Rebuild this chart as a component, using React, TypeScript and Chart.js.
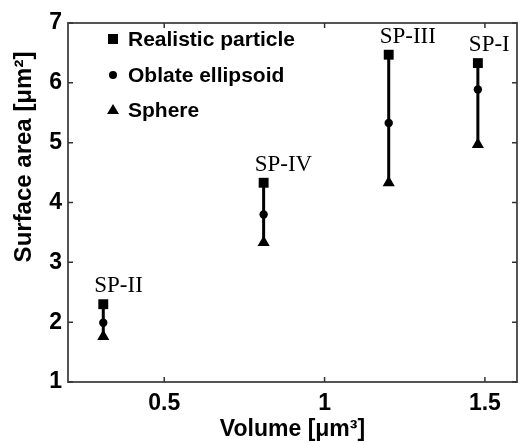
import React, { useEffect, useRef } from "react";
import { Chart, registerables } from "chart.js";

Chart.register(...registerables);

const particleNames = ["SP-II", "SP-IV", "SP-III", "SP-I"];
const volumes = [0.31, 0.81, 1.2, 1.478];
const realisticArea = [2.3, 4.33, 6.47, 6.33];
const oblateArea = [1.99, 3.8, 5.33, 5.89];
const sphereArea = [1.76, 3.33, 4.33, 4.97];
const seriesLabels = ["Realistic particle", "Oblate ellipsoid", "Sphere"];
const xTicks = [0.5, 1, 1.5];
const yTicks = [1, 2, 3, 4, 5, 6, 7];
const xTitle = "Volume [μm³]";
const yTitle = "Surface area [μm²]";

const SANS = "'Liberation Sans', Arial, Helvetica, sans-serif";
const SERIF = "'Liberation Serif', 'Times New Roman', serif";

const framePlugin = {
  id: "frameTicks",
  afterDatasetsDraw(chart: any) {
    const { ctx, chartArea: a, scales } = chart;
    const xs = scales.x;
    const ys = scales.y;
    ctx.save();
    ctx.strokeStyle = "#555555";
    ctx.lineWidth = 2;
    ctx.strokeRect(a.left, a.top, a.right - a.left, a.bottom - a.top);
    ctx.lineWidth = 1.5;
    ctx.strokeStyle = "#333333";
    const tl = 5;
    xTicks.forEach((v) => {
      const px = xs.getPixelForValue(v);
      ctx.beginPath();
      ctx.moveTo(px, a.bottom);
      ctx.lineTo(px, a.bottom - tl);
      ctx.moveTo(px, a.top);
      ctx.lineTo(px, a.top + tl);
      ctx.stroke();
    });
    yTicks.forEach((v) => {
      const py = ys.getPixelForValue(v);
      ctx.beginPath();
      ctx.moveTo(a.left, py);
      ctx.lineTo(a.left + tl, py);
      ctx.moveTo(a.right, py);
      ctx.lineTo(a.right - tl, py);
      ctx.stroke();
    });
    ctx.restore();
  },
};

const annotPlugin = {
  id: "annotLegend",
  afterDraw(chart: any) {
    const { ctx, chartArea: a, scales } = chart;
    const xs = scales.x;
    const ys = scales.y;
    ctx.save();
    ctx.fillStyle = "#000";
    ctx.font = `23px ${SERIF}`;
    ctx.textAlign = "left";
    ctx.textBaseline = "alphabetic";
    particleNames.forEach((n, i) => {
      const px = xs.getPixelForValue(volumes[i]);
      const py = ys.getPixelForValue(realisticArea[i]);
      ctx.fillText(n, px - 9, py - 12);
    });
    // legend
    const mx = a.left + 45;
    const tx = a.left + 60;
    const rows = [a.top + 16, a.top + 52, a.top + 87];
    ctx.font = `bold 21px ${SANS}`;
    ctx.textBaseline = "middle";
    ctx.fillRect(mx - 5, rows[0] - 5, 10, 10);
    ctx.beginPath();
    ctx.arc(mx, rows[1], 4, 0, Math.PI * 2);
    ctx.fill();
    ctx.beginPath();
    ctx.moveTo(mx, rows[2] - 6);
    ctx.lineTo(mx + 6, rows[2] + 4);
    ctx.lineTo(mx - 6, rows[2] + 4);
    ctx.closePath();
    ctx.fill();
    seriesLabels.forEach((s, i) => ctx.fillText(s, tx, rows[i] + 1));
    // y title
    ctx.save();
    ctx.translate(24, 157);
    ctx.rotate(-Math.PI / 2);
    ctx.textAlign = "center";
    ctx.textBaseline = "middle";
    ctx.font = `bold 24px ${SANS}`;
    ctx.fillText(yTitle, 0, 0);
    ctx.restore();
    ctx.restore();
  },
};

export default function App() {
  const ref = useRef<HTMLCanvasElement>(null);
  useEffect(() => {
    if (!ref.current) return;
    const lineSets = particleNames.map((n, i) => ({
      type: "line" as const,
      label: n,
      data: [
        { x: volumes[i], y: realisticArea[i] },
        { x: volumes[i], y: sphereArea[i] },
      ],
      borderColor: "#000",
      borderWidth: 3,
      pointRadius: 0,
      order: 2,
    }));
    const mk = (label: string, ys: number[], style: string, r: number) => ({
      type: "scatter" as const,
      label,
      data: volumes.map((v, i) => ({ x: v, y: ys[i] })),
      pointStyle: style,
      pointRadius: r,
      pointBackgroundColor: "#000",
      pointBorderColor: "#000",
      pointBorderWidth: 0,
      showLine: false,
      order: 1,
    });
    const chart = new Chart(ref.current, {
      type: "scatter",
      data: {
        datasets: [
          mk(seriesLabels[0], realisticArea, "rect", 7),
          mk(seriesLabels[1], oblateArea, "circle", 4.2),
          mk(seriesLabels[2], sphereArea, "triangle", 7),
          ...lineSets,
        ] as any,
      },
      options: {
        animation: false,
        responsive: true,
        maintainAspectRatio: false,
        layout: { padding: { left: 0, top: 23, right: 2, bottom: 0 } },
        plugins: { legend: { display: false }, tooltip: { enabled: false } },
        scales: {
          x: {
            type: "linear",
            min: 0.2,
            max: 1.6,
            afterBuildTicks: (s: any) => {
              s.ticks = xTicks.map((v) => ({ value: v }));
            },
            afterFit: (s: any) => {
              s.height = 61;
            },
            grid: { display: false, drawTicks: false },
            border: { display: false },
            ticks: {
              padding: 8,
              color: "#000",
              font: { family: SANS, size: 23, weight: "bold" },
              callback: (v: any) => String(v),
            },
            title: {
              display: true,
              text: xTitle,
              color: "#000",
              font: { family: SANS, size: 23, weight: "bold" },
              padding: { top: 0, bottom: 0 },
            },
          },
          y: {
            type: "linear",
            min: 1,
            max: 7,
            afterBuildTicks: (s: any) => {
              s.ticks = yTicks.map((v) => ({ value: v }));
            },
            afterFit: (s: any) => {
              s.width = 68;
            },
            grid: { display: false, drawTicks: false },
            border: { display: false },
            ticks: {
              padding: 6,
              color: "#000",
              font: { family: SANS, size: 23, weight: "bold" },
              callback: (v: any) => String(v),
            },
            title: { display: false },
          },
        },
      },
      plugins: [framePlugin, annotPlugin],
    });
    return () => chart.destroy();
  }, []);
  return (
    <div style={{ position: "absolute", left: 0, top: 0, width: 524, height: 443, background: "#fff" }}>
      <canvas ref={ref} />
    </div>
  );
}
